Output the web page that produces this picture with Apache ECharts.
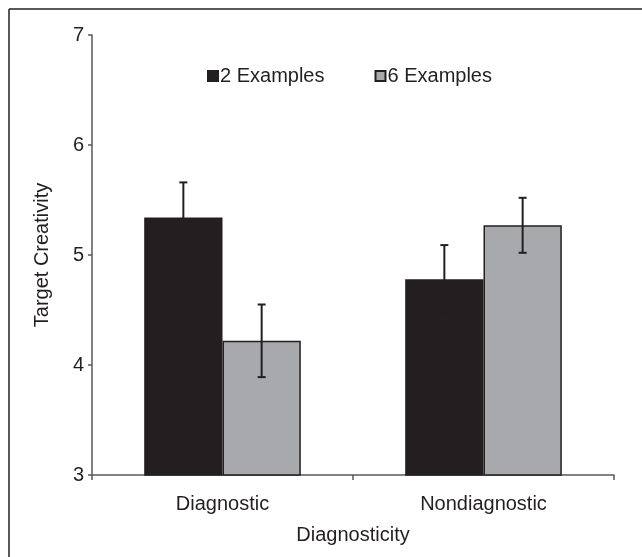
<!DOCTYPE html>
<html>
<head>
<meta charset="utf-8">
<script src="https://cdn.jsdelivr.net/npm/echarts@6/dist/echarts.min.js"></script>
<style>
  html, body { margin: 0; padding: 0; background: #fff; }
  #main { width: 642px; height: 557px; }
</style>
</head>
<body>
<div id="main"></div>
<script>
// 数据
var categories = ['Diagnostic', 'Nondiagnostic'];
var seriesNames = ['2 Examples', '6 Examples'];
var means2 = [5.34, 4.78];
var means6 = [4.22, 5.27];
var err2 = [0.32, 0.31];
var err6 = [0.33, 0.25];

var ink = '#231f20';
var fontName = '"Liberation Sans", Arial, sans-serif';

function errData(means, errs) {
    return means.map(function (m, i) {
        return [i, m - errs[i], m + errs[i]];
    });
}

// 误差线
function errRender(side) {
    return function (params, api) {
        var band = api.size([1, 0])[0];
        var x = api.coord([api.value(0), 0])[0] + side * band * 0.15;
        var lo = api.coord([api.value(0), api.value(1)])[1];
        var hi = api.coord([api.value(0), api.value(2)])[1];
        var style = {stroke: ink, lineWidth: 2, fill: null};
        return {
            type: 'group',
            children: [
                {type: 'line', shape: {x1: x, y1: lo, x2: x, y2: hi}, style: style},
                {type: 'line', shape: {x1: x - 4, y1: hi, x2: x + 4, y2: hi}, style: style},
                {type: 'line', shape: {x1: x - 4, y1: lo, x2: x + 4, y2: lo}, style: style}
            ]
        };
    };
}

var chart = echarts.init(document.getElementById('main'));
var option = {
    backgroundColor: '#fff',
    animation: false,
    textStyle: {fontFamily: fontName, color: ink},
    graphic: [
        {type: 'line', shape: {x1: 9, y1: 9, x2: 642, y2: 9}, style: {stroke: ink, lineWidth: 1.5}},
        {type: 'line', shape: {x1: 9, y1: 9, x2: 9, y2: 557}, style: {stroke: ink, lineWidth: 1.5}}
    ],
    legend: {
        left: 202,
        top: 61,
        itemGap: 50,
        itemWidth: 10,
        itemHeight: 10,
        icon: 'rect',
        data: seriesNames,
        textStyle: {fontSize: 20, color: ink, fontFamily: fontName, padding: [0, 0, 0, -3]}
    },
    grid: {left: 92, right: 28, top: 35, bottom: 82},
    xAxis: {
        type: 'category',
        data: categories,
        name: 'Diagnosticity',
        nameLocation: 'middle',
        nameGap: 50,
        nameTextStyle: {fontSize: 20, color: ink},
        axisLine: {lineStyle: {color: '#58595b', width: 1.5}},
        axisTick: {show: true, length: 5, lineStyle: {color: '#58595b', width: 1.5}},
        axisLabel: {fontSize: 20, color: ink, margin: 19}
    },
    yAxis: {
        type: 'value',
        min: 3,
        max: 7,
        interval: 1,
        name: 'Target Creativity',
        nameLocation: 'middle',
        nameGap: 40,
        nameTextStyle: {fontSize: 20, color: ink},
        splitLine: {show: false},
        axisLine: {show: true, lineStyle: {color: '#58595b', width: 1.5}},
        axisTick: {show: true, length: 4, lineStyle: {color: '#58595b', width: 1.5}},
        axisLabel: {fontSize: 20, color: ink, margin: 8}
    },
    series: [
        {
            name: seriesNames[0],
            type: 'bar',
            data: means2,
            barWidth: '30%',
            barGap: '0%',
            itemStyle: {color: ink, borderColor: ink, borderWidth: 1.5}
        },
        {
            name: seriesNames[1],
            type: 'bar',
            data: means6,
            barWidth: '30%',
            barGap: '0%',
            itemStyle: {color: '#a7a9ac', borderColor: ink, borderWidth: 1.5}
        },
        {
            type: 'custom',
            renderItem: errRender(-1),
            data: errData(means2, err2),
            encode: {x: 0, y: [1, 2]},
            z: 10
        },
        {
            type: 'custom',
            renderItem: errRender(1),
            data: errData(means6, err6),
            encode: {x: 0, y: [1, 2]},
            z: 10
        }
    ]
};
chart.setOption(option);
</script>
</body>
</html>
